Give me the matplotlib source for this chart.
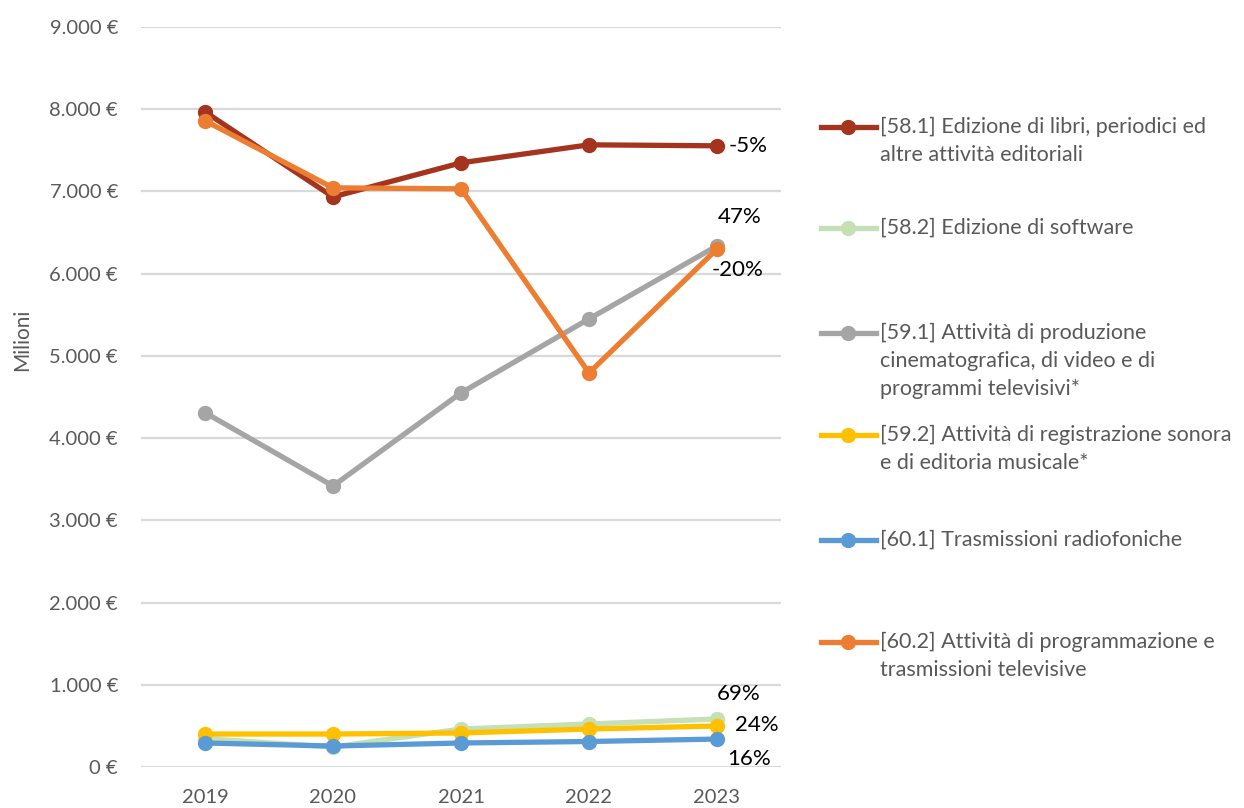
import matplotlib
matplotlib.use("Agg")
import matplotlib.pyplot as plt
from matplotlib.lines import Line2D

years = ["2019", "2020", "2021", "2022", "2023"]
s581 = [7968, 6934, 7348, 7567, 7555]
s582 = [345, 243, 462, 523, 584]
s591 = [4310, 3418, 4550, 5450, 6338]
s592 = [401, 401, 414, 462, 499]
s601 = [292, 255, 292, 310, 340]
s602 = [7860, 7044, 7032, 4793, 6300]

names = [
    "[58.1] Edizione di libri, periodici ed\naltre attività editoriali",
    "[58.2] Edizione di software",
    "[59.1] Attività di produzione\ncinematografica, di video e di\nprogrammi televisivi*",
    "[59.2] Attività di registrazione sonora\ne di editoria musicale*",
    "[60.1] Trasmissioni radiofoniche",
    "[60.2] Attività di programmazione e\ntrasmissioni televisive",
]
series = [s581, s582, s591, s592, s601, s602]
colors = ["#A5341E", "#C5E0B4", "#A5A5A5", "#FFC000", "#5B9BD5", "#ED7D31"]
pct_labels = ["-5%", "69%", "47%", "24%", "16%", "-20%"]
yticks = [0, 1000, 2000, 3000, 4000, 5000, 6000, 7000, 8000, 9000]
ytick_labels = ["0 €", "1.000 €", "2.000 €", "3.000 €", "4.000 €", "5.000 €",
                "6.000 €", "7.000 €", "8.000 €", "9.000 €"]

W, H = 1244, 808
fig = plt.figure(figsize=(W / 100, H / 100), dpi=100)
ax = fig.add_axes([141/W, 41/H, 640/W, 740/H])
x = list(range(len(years)))
for vals, c in zip(series, colors):
    ax.plot(x, vals, color=c, lw=3.8, marker="o", ms=10, solid_capstyle="round", zorder=3)

ax.set_xlim(-0.5, 4.5)
ax.set_ylim(0, 9000)
ax.set_yticks(yticks)
ax.set_yticklabels(ytick_labels)
ax.set_xticks(x)
ax.set_xticklabels(years)
ax.grid(axis="y", color="#D9D9D9", lw=1.6)
ax.set_axisbelow(True)
for s in ax.spines.values():
    s.set_visible(False)
ax.tick_params(axis="y", length=0, labelsize=14.5, labelcolor="#595959", pad=16.5)
ax.tick_params(axis="x", length=0, labelsize=14.5, labelcolor="#595959", pad=16)
for lab in ax.get_xticklabels() + ax.get_yticklabels():
    lab.set_family("Lato")
ax.set_ylabel("Milioni", fontsize=15, color="#595959", family="Lato")
ax.yaxis.set_label_coords(32/W, 1 - 340/H, transform=fig.transFigure)

# end labels (percent changes)
offsets = {
    "-5%": (0.09, 0, "left"),
    "69%": (0.17, 304, "center"),
    "47%": (0.18, 353, "center"),
    "24%": (0.31, 12, "center"),
    "16%": (0.25, -243, "center"),
    "-20%": (0.16, -254, "center"),
}
for vals, lab in zip(series, pct_labels):
    dx, dy, ha = offsets[lab]
    ax.text(4 + dx, vals[-1] + dy, lab, fontsize=16, color="black",
            ha=ha, va="center", family="Lato")

# legend
leg_y = [127, 228, 333, 435, 540, 642]
for yy, c, name in zip(leg_y, colors, names):
    fy = 1 - yy / H
    fig.add_artist(Line2D([821/W, 876/W], [fy, fy], color=c, lw=3.8,
                          transform=fig.transFigure))
    fig.add_artist(Line2D([848/W], [fy], color=c, marker="o", ms=10,
                          transform=fig.transFigure))
    fig.text(880/W, fy + 10/H, name, fontsize=15.5, color="#595959",
             family="Lato", ha="left", va="top", linespacing=1.5)

fig.savefig("out.png", dpi=100)
